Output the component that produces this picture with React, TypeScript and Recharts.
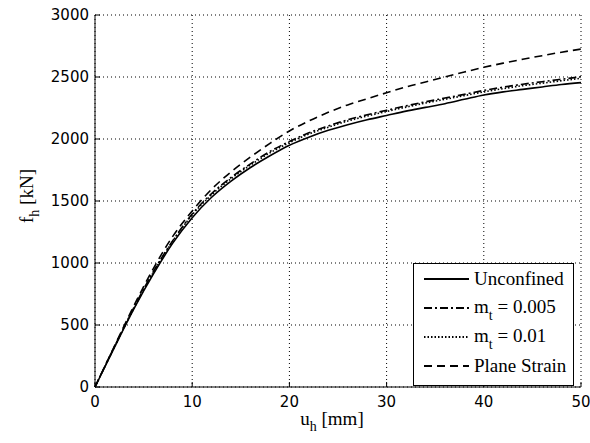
import React from "react";
import { LineChart, Line, XAxis, YAxis, CartesianGrid, Legend } from "recharts";

// displacement u_h [mm]
const uh = [0, 2, 4, 6, 8, 10, 12, 14, 16, 18, 20, 22, 24, 26, 28, 30, 32, 34, 36, 38, 40, 42, 44, 46, 48, 50];

// horizontal force f_h [kN]
const unconfined = [0, 320, 630, 910, 1160, 1365, 1530, 1660, 1770, 1865, 1950, 2015, 2070, 2115, 2155, 2190, 2225, 2255, 2285, 2320, 2355, 2380, 2400, 2420, 2440, 2455];
const mt005 = [0, 325, 640, 930, 1180, 1395, 1560, 1690, 1800, 1900, 1980, 2050, 2105, 2155, 2195, 2232, 2267, 2300, 2330, 2360, 2392, 2418, 2442, 2462, 2482, 2502];
const mt001 = [0, 323, 635, 925, 1175, 1388, 1550, 1680, 1790, 1888, 1970, 2040, 2095, 2145, 2185, 2222, 2257, 2290, 2320, 2350, 2380, 2406, 2430, 2450, 2470, 2490];
const planeStrain = [0, 330, 655, 955, 1215, 1420, 1595, 1735, 1855, 1965, 2065, 2145, 2215, 2275, 2325, 2373, 2420, 2460, 2500, 2540, 2578, 2612, 2643, 2672, 2700, 2725];

const xTicks = [0, 10, 20, 30, 40, 50];
const yTicks = [0, 500, 1000, 1500, 2000, 2500, 3000];

const data = uh.map((u, i) => ({
  u,
  unconfined: unconfined[i],
  mt005: mt005[i],
  mt001: mt001[i],
  planeStrain: planeStrain[i],
}));

const series = [
  { key: "unconfined", dash: undefined as string | undefined, label: ["Unconfined"] },
  { key: "mt005", dash: "8 3 2 3", label: ["m", "t", " = 0.005"] },
  { key: "mt001", dash: "1.5 2", label: ["m", "t", " = 0.01"] },
  { key: "planeStrain", dash: "8 5", label: ["Plane Strain"] },
];

const tickFont = "DejaVu Sans, sans-serif";
const serif = "Liberation Serif, DejaVu Serif, serif";
const TICK = 5;

const BottomTick = (props: any) => {
  const { x, y, payload } = props;
  return (
    <g>
      <line x1={x} x2={x} y1={y} y2={y - TICK} stroke="#000" />
      <text x={x} y={y + 20} textAnchor="middle" fontFamily={tickFont} fontSize={15} fill="#000">
        {payload.value}
      </text>
    </g>
  );
};

const LeftTick = (props: any) => {
  const { x, y, payload } = props;
  return (
    <g>
      <line x1={x} x2={x + TICK} y1={y} y2={y} stroke="#000" />
      <text x={x - 6} y={y + 5} textAnchor="end" fontFamily={tickFont} fontSize={15} fill="#000">
        {payload.value}
      </text>
    </g>
  );
};

const TopTick = (props: any) => {
  const { x, y } = props;
  return <line x1={x} x2={x} y1={y} y2={y + TICK} stroke="#000" />;
};

const RightTick = (props: any) => {
  const { x, y } = props;
  return <line x1={x} x2={x - TICK} y1={y} y2={y} stroke="#000" />;
};

const LegendBox = (props: any) => {
  const payload = [...(props.payload || [])].sort(
    (a: any, b: any) =>
      series.findIndex((s) => s.key === a.dataKey) - series.findIndex((s) => s.key === b.dataKey)
  );
  return (
    <div
      style={{
        border: "1px solid #000",
        background: "#fff",
        width: 159,
        height: 121,
        boxSizing: "content-box",
        fontFamily: serif,
        fontSize: 19,
        color: "#000",
      }}
    >
      {payload.map((entry: any) => {
        const s = series.find((d) => d.key === entry.dataKey)!;
        return (
          <div key={s.key} style={{ height: 29, display: "flex", alignItems: "center", whiteSpace: "nowrap" }}>
            <svg width={60} height={10} style={{ flex: "none" }}>
              <line x1={10} x2={55} y1={5} y2={5} stroke="#000" strokeWidth={2} strokeDasharray={s.dash} />
            </svg>
            <span style={{ lineHeight: "19px" }}>
              {s.label[0]}
              {s.label.length > 1 && (
                <>
                  <span style={{ fontSize: 14, position: "relative", top: 7 }}>{s.label[1]}</span>
                  {s.label[2]}
                </>
              )}
            </span>
          </div>
        );
      })}
    </div>
  );
};

export default function App() {
  return (
    <div style={{ width: 590, height: 443, background: "#fff" }}>
      <style>{"body{margin:0;overflow:hidden;background:#fff}"}</style>
      <LineChart width={590} height={443} data={data} margin={{ top: 15, right: 9, bottom: 26, left: 35 }}>
        <CartesianGrid stroke="#000" strokeDasharray="1 3" />
        <XAxis
          dataKey="u"
          type="number"
          domain={[0, 50]}
          ticks={xTicks}
          height={30}
          tickSize={0}
          tickMargin={0}
          tickLine={false}
          axisLine={{ stroke: "#000" }}
          tick={BottomTick}
          label={{
            position: "insideBottom",
            content: (p: any) => {
              const vb = p.viewBox;
              return (
                <text x={vb.x + vb.width / 2 - 6} y={425} textAnchor="middle" fontFamily={serif} fontSize={19} fill="#000">
                  u<tspan dy={6} fontSize={14}>h</tspan>
                  <tspan dy={-6}> [mm]</tspan>
                </text>
              );
            },
          }}
        />
        <XAxis
          xAxisId="top"
          orientation="top"
          dataKey="u"
          type="number"
          domain={[0, 50]}
          ticks={xTicks}
          height={0}
          tickSize={0}
          tickMargin={0}
          tickLine={false}
          axisLine={{ stroke: "#000" }}
          tick={TopTick}
        />
        <YAxis
          type="number"
          domain={[0, 3000]}
          ticks={yTicks}
          width={60}
          tickSize={0}
          tickMargin={0}
          tickLine={false}
          axisLine={{ stroke: "#000" }}
          tick={LeftTick}
          label={{
            position: "insideLeft",
            content: (p: any) => {
              const vb = p.viewBox;
              const cy = vb.y + vb.height / 2 - 5;
              return (
                <text
                  x={33}
                  y={cy}
                  transform={`rotate(-90, 33, ${cy})`}
                  textAnchor="middle"
                  fontFamily={serif}
                  fontSize={19}
                  fill="#000"
                >
                  f<tspan dy={6} fontSize={14}>h</tspan>
                  <tspan dy={-6}> [kN]</tspan>
                </text>
              );
            },
          }}
        />
        <YAxis
          yAxisId="right"
          orientation="right"
          type="number"
          domain={[0, 3000]}
          ticks={yTicks}
          width={0}
          tickSize={0}
          tickMargin={0}
          tickLine={false}
          axisLine={{ stroke: "#000" }}
          tick={RightTick}
        />
        {series.map((s) => (
          <Line
            key={s.key}
            type="monotone"
            dataKey={s.key}
            stroke="#000"
            strokeWidth={1.6}
            strokeDasharray={s.dash}
            dot={false}
            activeDot={false}
            isAnimationActive={false}
          />
        ))}
        <Legend
          layout="vertical"
          align="center"
          verticalAlign="middle"
          content={LegendBox}
          wrapperStyle={{ position: "absolute", left: 413, top: 263, width: 161, height: 123 }}
        />
      </LineChart>
    </div>
  );
}
